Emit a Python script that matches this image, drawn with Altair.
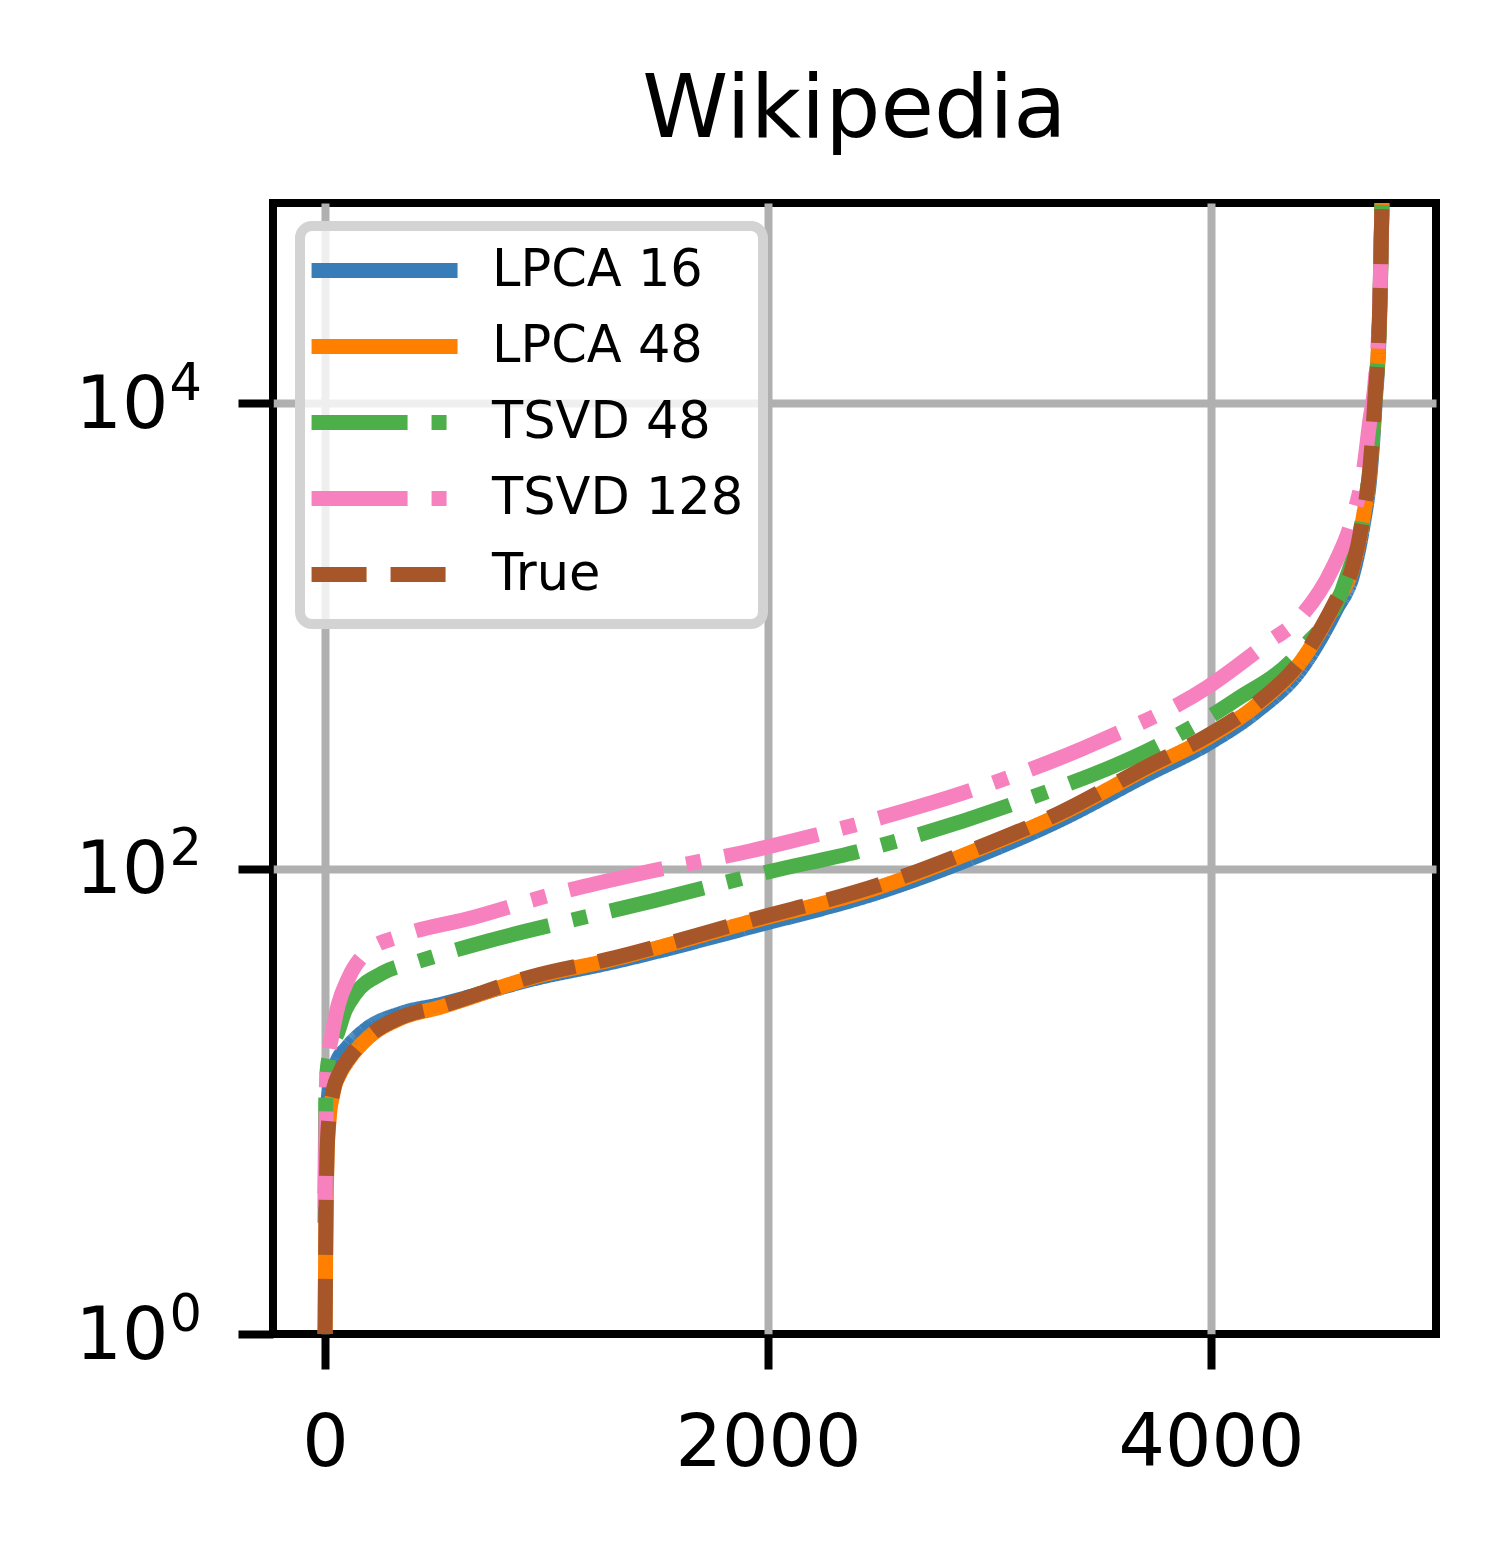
import altair as alt
import pandas as pd

series_names = ["LPCA 16", "LPCA 48", "TSVD 48", "TSVD 128", "True"]
series_colors = ["#377eb8", "#ff7f00", "#4daf4a", "#f781bf", "#a65628"]
series_dashes = [[1, 0], [1, 0], [96, 24, 15, 24], [96, 24, 15, 24], [55, 24]]

# LPCA 16
x_l16 = [0, 5, 12, 25, 50, 100, 190, 340, 515, 965, 1266, 1919, 2515, 2912, 3309, 3707,
         4000, 4207, 4406, 4565, 4641, 4687, 4718, 4740, 4763, 4776]
y_l16 = [3, 6.5, 9.5, 12, 14.5, 17, 20.5, 23.8, 26, 34, 39, 56, 80, 110, 160, 252,
         350, 475, 720, 1300, 1850, 3000, 4900, 9600, 26500, 120000]

# LPCA 48
x_l48 = [0, 4, 9, 18, 36, 70, 100, 190, 340, 515, 965, 1266, 1919, 2515, 2912, 3309,
         3707, 4000, 4207, 4406, 4565, 4641, 4687, 4718, 4740, 4763, 4776]
y_l48 = [1, 2.9, 5.8, 8.3, 10.8, 13.3, 14.8, 18.6, 22.7, 25.3, 34.6, 40, 59, 84, 117, 169,
         268, 372, 505, 775, 1400, 1980, 3200, 5250, 10200, 27500, 120000]

# TSVD 48
x_t48 = [0, 3, 8, 25, 55, 90, 137, 257, 424, 740, 1115, 1490, 2005, 2415, 3110, 3806,
         4108, 4406, 4605, 4687, 4718, 4740, 4763, 4776]
y_t48 = [4, 10, 13, 16.5, 19.5, 24.5, 29, 35.5, 40, 49, 60, 73, 97, 119, 190, 356,
         527, 866, 1700, 3300, 5400, 10300, 27700, 120000]

# TSVD 128
x_t128 = [0, 4, 8, 30, 60, 107, 197, 333, 664, 1038, 1418, 1919, 2515, 2912, 3508, 3982,
          4253, 4402, 4551, 4641, 4687, 4718, 4740, 4763, 4776]
y_t128 = [3.5, 8, 13.5, 19, 26, 34, 44.5, 51, 61.5, 78, 95, 119, 166, 216, 356, 600,
          930, 1200, 1970, 3240, 5000, 8500, 12000, 29000, 120000]

# True
x_true = [0, 4, 9, 18, 36, 70, 100, 190, 340, 515, 965, 1266, 1919, 2515, 2912, 3309,
          3707, 4000, 4207, 4406, 4565, 4641, 4687, 4718, 4740, 4763, 4776]
y_true = [1, 3, 6, 8.5, 11, 13.5, 15, 18.8, 22.9, 25.5, 35, 40.5, 60, 86, 119, 172,
          273, 380, 513, 784, 1422, 2000, 3240, 5300, 10300, 27700, 120000]

x_ticks = [0, 2000, 4000]
y_ticks = [1, 100, 10000]
y_tick_base = "10"
y_tick_exponents = ["0", "2", "4"]

series_data = {
    "LPCA 16": (x_l16, y_l16),
    "LPCA 48": (x_l48, y_l48),
    "TSVD 48": (x_t48, y_t48),
    "TSVD 128": (x_t128, y_t128),
    "True": (x_true, y_true),
}

FONT = "DejaVu Sans"

legend = alt.Legend(
    title=None,
    orient="none",
    legendX=27,
    legendY=23,
    symbolType="M-1.83,0H6.28",
    symbolSize=1296,
    symbolStrokeWidth=15,
    labelFontSize=51,
    labelFont=FONT,
    labelColor="black",
    labelOffset=122,
    labelLimit=1000,
    rowPadding=15,
    padding=19,
    fillColor="rgba(255,255,255,0.8)",
    strokeColor="#d3d3d3",
    cornerRadius=12,
)

exp_expr = " : ".join(
    f"datum.value == {v} ? '{t}'" for v, t in zip(y_ticks[:-1], y_tick_exponents[:-1])
) + f" : '{y_tick_exponents[-1]}'"

x_scale = alt.Scale(domain=[-235, 5016], nice=False, zero=False)
y_scale = alt.Scale(type="log", domain=[1, 72400], nice=False)

main_y_axis = alt.Axis(
    values=y_ticks, labelExpr=f"'{y_tick_base}'", title=None, orient="left",
    labelPadding=70, labelOffset=2, labelFontSize=73, labelLimit=1000,
    grid=True, gridOpacity={"condition": {"test": "datum.value == 1", "value": 0}, "value": 1},
)
exp_y_axis = alt.Axis(
    values=y_ticks, labelExpr=exp_expr, title=None, orient="left",
    ticks=False, tickSize=0, grid=False, domain=False, labelLimit=1000,
    labelAlign="left", labelPadding=104, labelOffset=-19, labelFontSize=51,
)

layers = []
for i, name in enumerate(series_names):
    xs, ys = series_data[name]
    df = pd.DataFrame({"x": xs, "y": ys, "series": name})
    if i == 0:
        y_axis = main_y_axis
    elif i == 1:
        y_axis = exp_y_axis
    else:
        y_axis = None
    layer = alt.Chart(df).mark_line(
        strokeWidth=15, clip=True, interpolate="monotone", strokeCap="butt", strokeJoin="round"
    ).encode(
        x=alt.X("x:Q", scale=x_scale,
                axis=alt.Axis(values=x_ticks, format="d", title=None, labelPadding=38,
                              grid=True, labelFontSize=73, labelLimit=1000)),
        y=alt.Y("y:Q", scale=y_scale, axis=y_axis),
        color=alt.Color("series:N", scale=alt.Scale(domain=series_names, range=series_colors), legend=legend),
        strokeDash=alt.StrokeDash("series:N", scale=alt.Scale(domain=series_names, range=series_dashes), legend=legend),
    )
    layers.append(layer)

chart = alt.layer(*layers).resolve_axis(y="independent").properties(
    width=1163,
    height=1131,
    padding={"left": 265, "top": 195, "right": 40, "bottom": 150},
    autosize=alt.AutoSizeParams(type="none"),
    title=alt.Title("Wikipedia", fontSize=87, font=FONT, fontWeight="normal", color="black",
                    anchor="middle", frame="group", baseline="alphabetic", offset=-21),
    background="white",
).configure_view(
    stroke="black", strokeWidth=8
).configure_axis(
    labelFont=FONT, labelColor="black", labelLimit=1000,
    tickColor="black", tickSize=35, tickWidth=8, domain=False,
    gridColor="#b0b0b0", gridWidth=8,
).configure_legend(
    strokeWidth=10
)

chart.save("out.html", embed_options={"renderer": "svg", "actions": False})
